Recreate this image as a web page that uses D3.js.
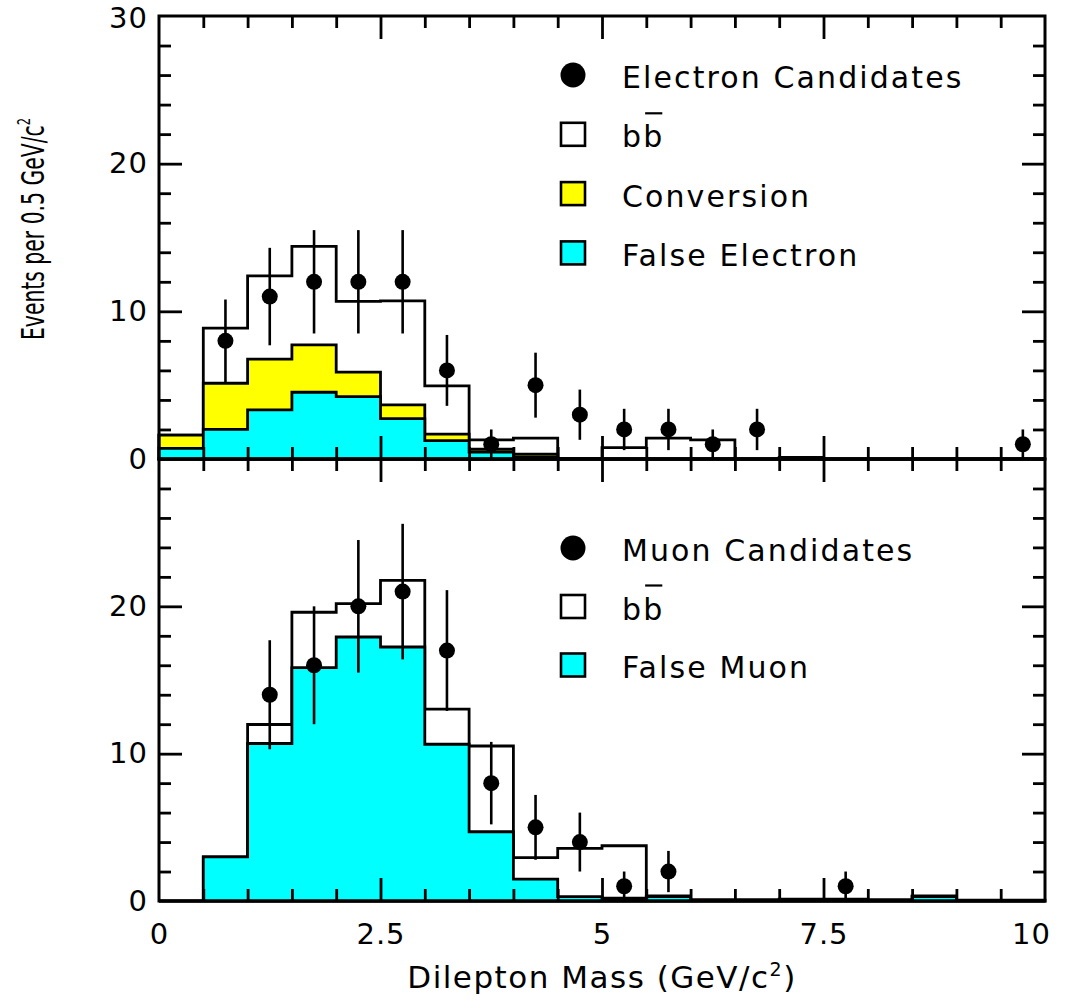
<!DOCTYPE html>
<html>
<head>
<meta charset="utf-8">
<script src="https://cdn.jsdelivr.net/npm/d3@7"></script>
<style>
  html, body { margin: 0; padding: 0; background: #fff; }
  svg { display: block; }
  text { font-family: "DejaVu Sans", sans-serif; fill: #000; }
</style>
</head>
<body>
<svg id="chart" width="1072" height="1003"></svg>
<script>
// ---------- data ----------
const binLow = [0, 0.5, 1, 1.5, 2, 2.5, 3, 3.5, 4, 4.5, 5, 5.5, 6, 6.5, 7, 7.5, 8, 8.5, 9, 9.5];
const binWidth = 0.5;

// Electron panel (stacked: false electron, conversion, bb)
const eFalse = [0.72, 2.0, 3.32, 4.52, 4.23, 2.73, 1.24, 0.47, 0.1, 0, 0, 0, 0, 0, 0, 0, 0, 0, 0, 0];
const eConv  = [0.9, 3.13, 3.44, 3.21, 1.65, 0.93, 0.45, 0.19, 0.22, 0.03, 0, 0, 0, 0, 0, 0, 0, 0, 0, 0];
const eBB    = [0, 3.73, 5.64, 6.67, 4.79, 7.05, 3.26, 0.63, 1.1, 0, 0.77, 1.42, 1.29, 0, 0.1, 0, 0, 0, 0, 0];

const eDataX   = [0.75, 1.25, 1.75, 2.25, 2.75, 3.25, 3.75, 4.25, 4.75, 5.25, 5.75, 6.25, 6.75, 9.75];
const eDataY   = [8, 11, 12, 12, 12, 6, 1, 5, 3, 2, 2, 1, 2, 1];
const eDataErr = [2.8, 3.3, 3.5, 3.5, 3.5, 2.4, 1.0, 2.2, 1.7, 1.4, 1.4, 1.0, 1.4, 1.0];

// Muon panel (stacked: false muon, bb)
const mFalse = [0, 3.0, 10.69, 15.84, 17.92, 17.24, 10.64, 4.7, 1.49, 0.3, 0.2, 0.3, 0, 0, 0.08, 0, 0, 0.3, 0, 0];
const mBB    = [0, 0, 1.29, 3.76, 2.26, 4.52, 2.38, 5.82, 1.45, 3.27, 3.55, 0.05, 0.1, 0.1, 0.04, 0.12, 0.1, 0.04, 0.05, 0.05];

const mDataX   = [1.25, 1.75, 2.25, 2.75, 3.25, 3.75, 4.25, 4.75, 5.25, 5.75, 7.75];
const mDataY   = [14, 16, 20, 21, 17, 8, 5, 4, 1, 2, 1];
const mDataErr = [3.7, 4.0, 4.5, 4.6, 4.1, 2.8, 2.2, 2.0, 1.0, 1.4, 1.0];

const xTickLabels = [0, 2.5, 5, 7.5, 10];
const xMinorTicks = [0.5, 1, 1.5, 2, 3, 3.5, 4, 4.5, 5.5, 6, 6.5, 7, 8, 8.5, 9, 9.5];
const yTopLabels = [0, 10, 20, 30];
const yBotLabels = [0, 10, 20];
const yMinorTicks = [2, 4, 6, 8, 12, 14, 16, 18, 22, 24, 26, 28];
const yMajorTicks = [10, 20];

const eLegend = ["Electron Candidates", "bb", "Conversion", "False Electron"];
const mLegend = ["Muon Candidates", "bb", "False Muon"];

const CYAN = "#00ffff", YELLOW = "#ffff00";

// ---------- layout ----------
const svg = d3.select("#chart");
const L = 159, R = 1045, T = 16, M = 459, B = 901;
const x = d3.scaleLinear().domain([0, 10]).range([L, R]);
const yTop = d3.scaleLinear().domain([0, 30]).range([M, T]);
const yBot = d3.scaleLinear().domain([0, 30]).range([B, M]);

function stairPath(vals, y) {
  let p = `M${x(binLow[0])},${y(0)}`;
  vals.forEach((v, i) => {
    p += `L${x(binLow[i])},${y(v)}L${x(binLow[i] + binWidth)},${y(v)}`;
  });
  p += `L${x(binLow[binLow.length - 1] + binWidth)},${y(0)}Z`;
  return p;
}

function drawLayers(g, layers, y) {
  layers.forEach(l => {
    g.append("path").attr("d", stairPath(l.vals, y))
      .attr("fill", l.fill).attr("stroke", "#000").attr("stroke-width", 2.8)
      .attr("stroke-linejoin", "miter");
  });
}

function drawPoints(g, xs, ys, errs, y) {
  const gp = g.append("g");
  xs.forEach((xv, i) => {
    gp.append("line").attr("x1", x(xv)).attr("x2", x(xv))
      .attr("y1", y(Math.max(0, ys[i] - errs[i]))).attr("y2", y(ys[i] + errs[i]))
      .attr("stroke", "#000").attr("stroke-width", 2.6);
    gp.append("circle").attr("cx", x(xv)).attr("cy", y(ys[i])).attr("r", 8).attr("fill", "#000");
  });
}

// ---------- histograms ----------
const gTop = svg.append("g");
const eCum1 = eFalse.map((v, i) => v + eConv[i]);
const eCum2 = eCum1.map((v, i) => v + eBB[i]);
drawLayers(gTop, [
  { vals: eCum2, fill: "#fff" },
  { vals: eCum1, fill: YELLOW },
  { vals: eFalse, fill: CYAN }
], yTop);
drawPoints(gTop, eDataX, eDataY, eDataErr, yTop);

const gBot = svg.append("g");
const mCum = mFalse.map((v, i) => v + mBB[i]);
drawLayers(gBot, [
  { vals: mCum, fill: "#fff" },
  { vals: mFalse, fill: CYAN }
], yBot);
drawPoints(gBot, mDataX, mDataY, mDataErr, yBot);

// ---------- axes / ticks ----------
function styleAxis(sel) {
  sel.select(".domain").remove();
  sel.selectAll(".tick line").attr("stroke", "#000").attr("stroke-width", 2.8);
  sel.selectAll("text").style("font-family", '"DejaVu Sans", sans-serif')
    .style("font-size", "29px").style("letter-spacing", "1px").attr("fill", "#000");
}

// left & right axes both panels
[[yTop, yTopLabels], [yBot, yBotLabels]].forEach(([y, labels], k) => {
  svg.append("g").attr("transform", `translate(${L},0)`)
    .call(d3.axisLeft(y).tickValues(yMinorTicks).tickSize(-12).tickFormat(""))
    .call(styleAxis);
  svg.append("g").attr("transform", `translate(${L},0)`)
    .call(d3.axisLeft(y).tickValues(yMajorTicks).tickSize(-23).tickFormat(""))
    .call(styleAxis);
  const lab = svg.append("g").attr("transform", `translate(${L},0)`)
    .call(d3.axisLeft(y).tickValues(labels).tickSize(0).tickPadding(11).tickFormat(d3.format("d")))
    .call(styleAxis);
  if (k === 0) lab.selectAll(".tick text").filter(d => d === 30).attr("dy", "0.4em");
  svg.append("g").attr("transform", `translate(${R},0)`)
    .call(d3.axisRight(y).tickValues(yMinorTicks).tickSize(-12).tickFormat(""))
    .call(styleAxis);
  svg.append("g").attr("transform", `translate(${R},0)`)
    .call(d3.axisRight(y).tickValues(yMajorTicks).tickSize(-23).tickFormat(""))
    .call(styleAxis);
});

// horizontal edges: top (down), middle (up & down), bottom (up)
function hTicks(yPos, dir) {
  const mk = dir > 0 ? d3.axisBottom : d3.axisTop;
  svg.append("g").attr("transform", `translate(0,${yPos})`)
    .call(mk(x).tickValues(xMinorTicks).tickSize(12).tickFormat(""))
    .call(styleAxis);
  svg.append("g").attr("transform", `translate(0,${yPos})`)
    .call(mk(x).tickValues([2.5, 5, 7.5]).tickSize(23).tickFormat(""))
    .call(styleAxis);
}
hTicks(T, 1);
hTicks(M, 1);
hTicks(M, -1);
hTicks(B, -1);

// x labels
const xl = svg.append("g").attr("transform", `translate(0,${B})`)
  .call(d3.axisBottom(x).tickValues(xTickLabels).tickSize(0).tickPadding(22)
    .tickFormat(d => d3.format("")(d)))
  .call(styleAxis);
xl.selectAll(".tick text").filter(d => d === 10).attr("dx", -14);

// frames
[[T, M], [M, B]].forEach(([a, b]) => {
  svg.append("rect").attr("x", L).attr("y", a).attr("width", R - L).attr("height", b - a)
    .attr("fill", "none").attr("stroke", "#000").attr("stroke-width", 3);
});

// ---------- axis titles ----------
const xt = svg.append("text").attr("x", 602).attr("y", 988).attr("text-anchor", "middle")
  .style("font-size", "31px").style("letter-spacing", "1.5px");
xt.append("tspan").text("Dilepton Mass (GeV/c");
xt.append("tspan").text("2").attr("dy", -12).style("font-size", "19px");
xt.append("tspan").text(")").attr("dy", 12);

const yt = svg.append("text")
  .attr("transform", "translate(44,229) rotate(-90)")
  .attr("text-anchor", "middle")
  .attr("textLength", 222).attr("lengthAdjust", "spacingAndGlyphs")
  .style("font-family", '"DejaVu Sans Condensed", "DejaVu Sans", sans-serif')
  .style("font-size", "32px");
yt.append("tspan").text("Events per 0.5 GeV/c");
yt.append("tspan").text("2").attr("dy", -14).style("font-size", "18px");

// ---------- legends ----------
function legend(items, types, y0, step) {
  items.forEach((t, i) => {
    const cy = y0 + i * step;
    const ty = types[i];
    if (ty === "dot") {
      svg.append("circle").attr("cx", 573).attr("cy", cy).attr("r", 12.5).attr("fill", "#000");
    } else {
      svg.append("rect").attr("x", 561).attr("y", cy - 11.5).attr("width", 24).attr("height", 23)
        .attr("fill", ty).attr("stroke", "#000").attr("stroke-width", 2.6);
    }
    const txt = svg.append("text").attr("x", 622).attr("y", cy + 13)
      .style("font-size", "30px").style("letter-spacing", "2.1px")
      .text(t);
    if (t === "bb") {
      // overline (anti-quark bar) above the second b
      const ext = txt.node().getExtentOfChar(1);
      svg.append("line").attr("x1", ext.x + 2).attr("x2", ext.x + ext.width - 2)
        .attr("y1", cy - 21).attr("y2", cy - 21).attr("stroke", "#000").attr("stroke-width", 2.2);
    }
  });
}
legend(eLegend, ["dot", "#fff", YELLOW, CYAN], 75, 59.3);
legend(mLegend, ["dot", "#fff", CYAN], 548, 58.5);
</script>
</body>
</html>
